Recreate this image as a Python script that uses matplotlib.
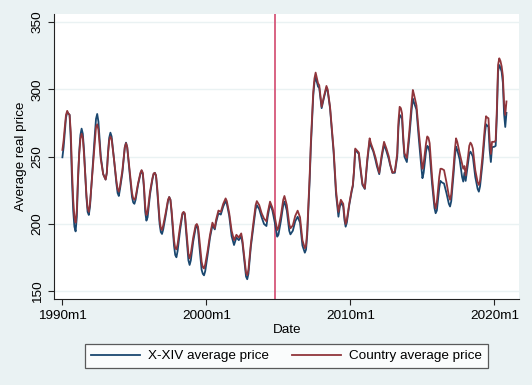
import matplotlib
matplotlib.use('Agg')
import matplotlib.pyplot as plt

# months counted from 1990m1
month = [0, 1, 2, 3, 4, 5, 6, 7, 8, 9,
         10, 11, 12, 13, 14, 15, 16, 17, 18, 20,
         21, 22, 23, 25, 27, 28, 29, 30, 32, 34,
         36, 37, 38, 39, 40, 41, 43, 45, 46, 47,
         48, 50, 52, 53, 54, 56, 58, 59, 60, 61,
         63, 65, 66, 67, 68, 69, 70, 71, 73, 75,
         76, 77, 78, 79, 81, 82, 83, 84, 86, 88,
         89, 90, 91, 93, 94, 95, 96, 98, 100, 101,
         102, 103, 105, 106, 107, 109, 111, 112, 113, 114,
         116, 117, 118, 119, 121, 123, 125, 127, 128, 130,
         132, 134, 136, 137, 139, 141, 143, 145, 147, 149,
         150, 152, 153, 154, 155, 157, 159, 161, 162, 164,
         166, 168, 170, 171, 173, 175, 177, 179, 180, 182,
         184, 185, 187, 189, 190, 192, 194, 196, 198, 200,
         202, 203, 204, 206, 207, 209, 210, 211, 213, 214,
         216, 218, 220, 221, 223, 226, 228, 229, 230, 231,
         232, 234, 235, 236, 237, 239, 241, 242, 243, 244,
         245, 247, 248, 250, 252, 254, 256, 257, 259, 261,
         262, 264, 266, 268, 270, 272, 273, 275, 277, 279,
         280, 281, 282, 283, 284, 285, 287, 289, 291, 292,
         293, 295, 297, 299, 300, 301, 303, 304, 305, 306,
         308, 310, 311, 312, 314, 315, 316, 318, 320, 322,
         323, 324, 326, 327, 328, 329, 331, 333, 334, 335,
         336, 338, 339, 340, 341, 342, 344, 346, 347, 348,
         350, 352, 353, 354, 355, 356, 357, 358, 360, 361,
         362, 363, 364, 365, 366, 367, 368, 369, 370]

country = [255, 262, 272, 281, 284, 282, 281, 268, 240, 218,
           205, 201, 210, 235, 252, 263, 267, 264, 252, 222,
           212, 209, 215, 238, 262, 272, 274, 270, 248, 237,
           233, 238, 252, 262, 265, 263, 248, 232, 226, 224,
           228, 240, 257, 260, 257, 240, 223, 219, 218, 220,
           230, 238, 240, 238, 228, 213, 206.7, 209, 224, 234,
           237.5, 238, 236, 227, 203, 197, 195.5, 199, 208, 218,
           220, 218, 210, 188, 182, 181.2, 185, 198, 208, 209,
           208, 198, 178, 174.5, 178, 190, 199, 200, 198, 190,
           172, 168, 167, 170, 180, 192, 201, 197, 203, 210,
           209, 215, 219, 217, 208, 195, 188, 192, 190, 193,
           188, 172, 164, 162, 166, 185, 200, 214, 217, 214,
           208, 204, 202, 208, 216.6, 212, 205, 195.5, 197, 206,
           218, 220.8, 214, 200, 196.8, 199, 206, 209.9, 205, 188,
           182, 184, 195, 235, 260, 298, 308, 312.4, 304.5, 303,
           287, 295, 302.5, 300, 287, 255, 225, 216.6, 209, 214,
           218, 215, 206, 200, 203, 215, 225, 229, 240, 256,
           255, 253, 245, 230, 226.5, 248, 263.6, 260, 255, 249,
           245, 238, 251, 261, 256, 250, 245, 238, 239, 252.5,
           276, 287, 286, 282, 265, 252.5, 249, 268, 290, 299.5,
           296, 288, 268, 250, 241, 245, 260, 265, 264, 260,
           235, 216, 211.5, 216, 235, 241, 241, 240, 231, 221,
           218, 222, 243, 255, 263.6, 261, 252.5, 245, 241, 243,
           236, 250, 258, 260.4, 259, 256, 240, 231, 229, 232,
           250, 272, 280, 279, 278.5, 262, 252, 261, 261, 262,
           285, 318, 323, 321, 317, 310, 290, 281, 291]

xxiv = [249.5, 257, 268, 279, 283, 282, 281, 262, 232, 210,
        198, 194.5, 205, 232, 253, 266, 270.8, 267, 255, 220,
        209, 206.7, 213, 240, 266, 278, 281.7, 276, 250, 237,
        233, 238, 253, 264, 267.8, 265, 248, 230, 223, 220.8,
        226, 238, 257, 260.4, 257, 238, 220, 216, 215, 218,
        229, 237, 239.6, 237, 226, 209, 202.5, 205, 222, 233,
        237, 238, 236, 225, 200, 194, 192.6, 196, 206, 217,
        220, 218, 208, 184, 177, 175.3, 180, 195, 207, 208.7,
        207, 195, 173, 169.6, 173, 187, 197, 199.3, 196, 185,
        166, 163, 161.9, 165, 177, 190, 199, 196, 201, 208,
        207, 213, 217, 215, 206, 191, 184.4, 190, 188, 191,
        186, 169, 161, 159, 163, 183, 197, 211, 214, 211,
        205, 200, 198.5, 205, 215, 210, 201, 190.6, 192, 202,
        214, 216.6, 210, 195, 192.3, 195, 202, 205.4, 201, 184,
        178.7, 181, 192, 232, 257, 295, 305, 309, 302, 301,
        286, 294, 301, 299, 286, 253, 222, 214, 205.4, 212,
        216, 213, 203, 198, 201, 214, 224, 228, 239, 255,
        254, 252, 243, 229, 226, 246, 262, 258, 254, 247,
        243, 237, 249, 259, 254, 248, 244, 238, 238, 250,
        272, 281, 280, 278, 262, 250, 246, 264, 285, 293,
        290, 285, 263, 243, 234, 238, 254, 258, 257, 253,
        230, 212, 208, 210, 227, 232, 231, 230, 223, 215,
        213, 217, 238, 250, 257.4, 255, 248, 235, 231.5, 238,
        232, 245, 252, 253.7, 252, 250, 235, 226, 224, 228,
        245, 267, 274, 273, 272, 255, 246, 257, 257.4, 258,
        280, 313, 318, 316, 313, 305, 282, 272, 282.5]

tick_months = [0, 120, 240, 360]
tick_labels = ['1990m1', '2000m1', '2010m1', '2020m1']
yticks = [150, 200, 250, 300, 350]
break_month = 177  # 2004m10

plt.rcParams['font.family'] = ['Liberation Sans', 'DejaVu Sans']
bg = '#eaf2f3'
fs = 9.7

fig = plt.figure(figsize=(5.32, 3.85), dpi=100, facecolor=bg)
ax = fig.add_axes([54/532, 1-299.3/385, (519.3-54)/532, (299.3-14)/385])
ax.set_facecolor('white')

l1, = ax.plot(month, xxiv, color='#1a476f', lw=1.3, zorder=3, label='X-XIV average price')
l2, = ax.plot(month, country, color='#90353b', lw=1.3, zorder=4, label='Country average price')
ax.axvline(break_month, color='#d6577a', lw=1.3, zorder=2)

ax.set_xlim(-7, 380.7)
ax.set_ylim(144.1, 355.9)
ax.set_xticks(tick_months)
ax.set_xticklabels(tick_labels, fontsize=fs)
ax.set_yticks(yticks)
ax.set_yticklabels([str(v) for v in yticks], fontsize=fs, rotation=90, va='center')
ax.tick_params(axis='both', length=4, width=0.8, color='#222222', pad=3.5)
ax.grid(axis='y', color=bg, lw=1.0, zorder=0)
ax.set_axisbelow(True)

for side in ['top', 'right']:
    ax.spines[side].set_visible(False)
for side in ['left', 'bottom']:
    ax.spines[side].set_color('#222222')
    ax.spines[side].set_linewidth(0.8)

ax.set_xlabel('Date', fontsize=fs, labelpad=1.5)
ax.set_ylabel('Average real price', fontsize=fs, labelpad=3)

leg = fig.legend(handles=[l1, l2], loc='center', bbox_to_anchor=(286.4/532, 1-356/385),
                 ncol=2, fontsize=fs, frameon=True, fancybox=False, borderpad=0.45,
                 handlelength=3.66, handletextpad=0.6, columnspacing=1.66, borderaxespad=0)
leg.get_frame().set_edgecolor('#333333')
leg.get_frame().set_linewidth(0.9)

fig.savefig('out.png', dpi=100, facecolor=bg)
